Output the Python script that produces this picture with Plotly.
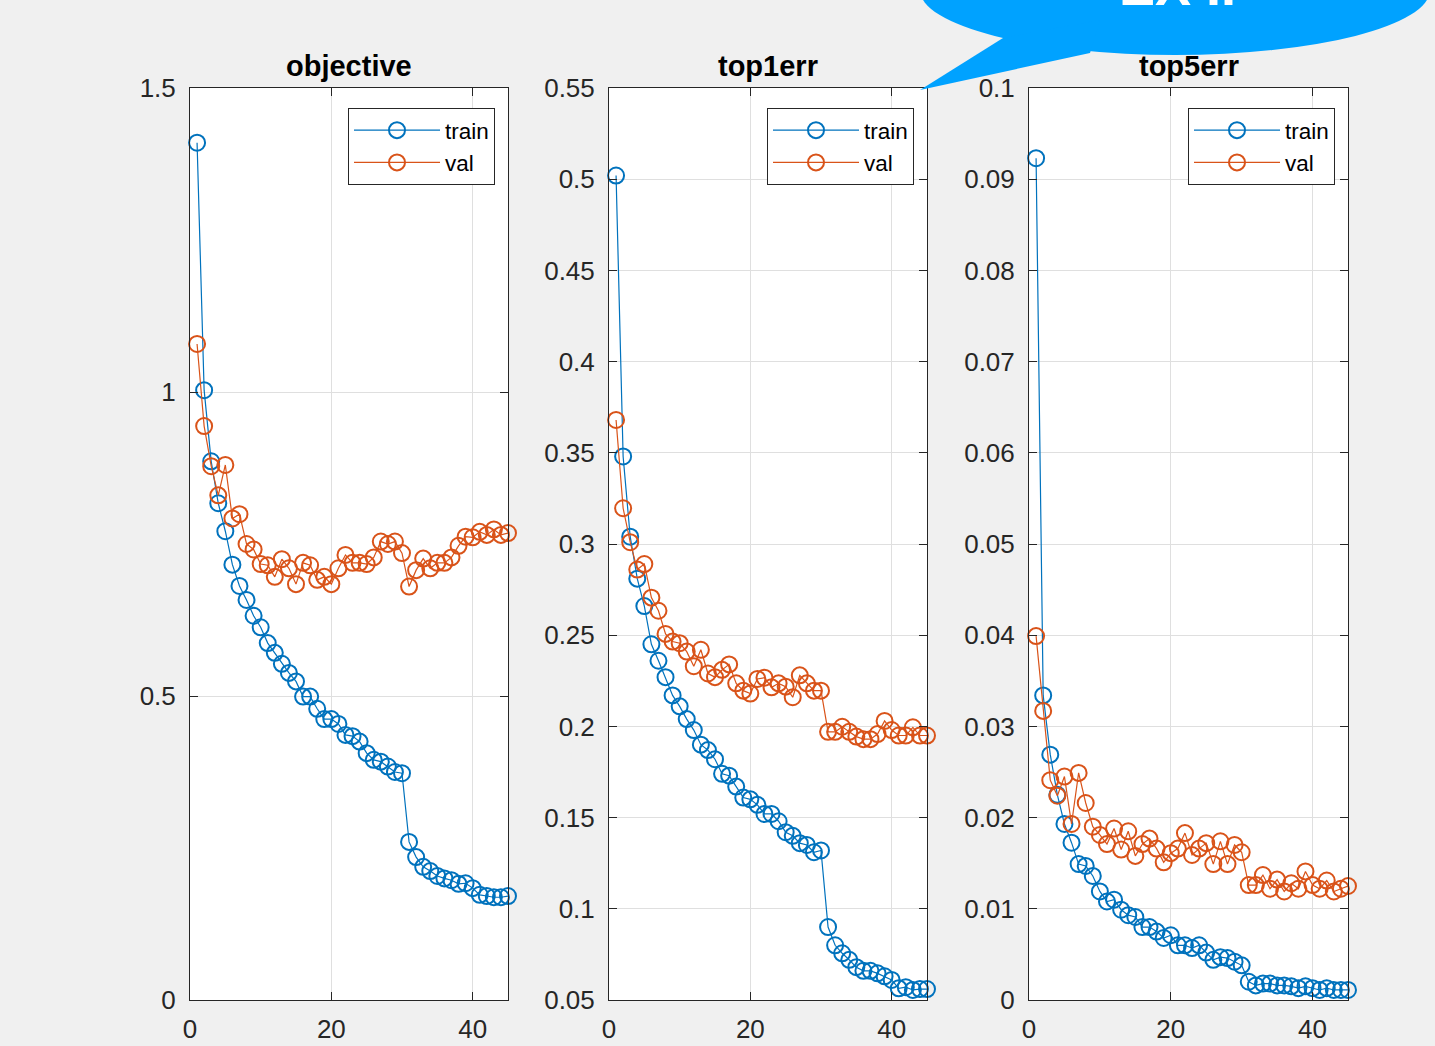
import plotly.graph_objects as go

# ---------------- data ----------------
epochs = list(range(1, 46))

obj_train = [1.41, 1.003, 0.886, 0.817, 0.771, 0.716, 0.681, 0.658, 0.632, 0.613,
             0.587, 0.571, 0.553, 0.538, 0.524, 0.499, 0.499, 0.479, 0.462, 0.462,
             0.454, 0.436, 0.434, 0.425, 0.406, 0.395, 0.392, 0.384, 0.375, 0.373,
             0.260, 0.235, 0.219, 0.212, 0.204, 0.200, 0.197, 0.191, 0.192, 0.184,
             0.173, 0.171, 0.169, 0.169, 0.171]
obj_val = [1.079, 0.944, 0.878, 0.83, 0.88, 0.792, 0.799, 0.75, 0.741, 0.717,
           0.715, 0.696, 0.725, 0.71, 0.684, 0.719, 0.715, 0.691, 0.696, 0.684,
           0.71, 0.732, 0.719, 0.719, 0.717, 0.728, 0.754, 0.75, 0.754, 0.735,
           0.68, 0.707, 0.726, 0.71, 0.719, 0.719, 0.728, 0.747, 0.762, 0.761,
           0.77, 0.765, 0.774, 0.765, 0.768]

top1_train = [0.502, 0.348, 0.304, 0.281, 0.266, 0.245, 0.236, 0.227, 0.217, 0.211,
              0.204, 0.198, 0.19, 0.187, 0.182, 0.174, 0.173, 0.167, 0.161, 0.160,
              0.157, 0.152, 0.152, 0.148, 0.142, 0.140, 0.136, 0.135, 0.131, 0.132,
              0.090, 0.080, 0.0756, 0.072, 0.068, 0.066, 0.066, 0.0646, 0.063, 0.061,
              0.0564, 0.057, 0.0555, 0.056, 0.056]
top1_val = [0.368, 0.3196, 0.301, 0.286, 0.289, 0.2706, 0.2634, 0.2507, 0.2465, 0.2456,
            0.241, 0.233, 0.242, 0.229, 0.227, 0.231, 0.234, 0.2236, 0.2196, 0.218,
            0.226, 0.2267, 0.2214, 0.2236, 0.2218, 0.216, 0.228, 0.2236, 0.2196, 0.2196,
            0.197, 0.197, 0.1998, 0.197, 0.1944, 0.193, 0.193, 0.1958, 0.203, 0.198,
            0.195, 0.195, 0.1995, 0.195, 0.195]

top5_train = [0.0923, 0.0334, 0.0269, 0.0225, 0.0193, 0.01725, 0.0149, 0.0147, 0.0136, 0.0119,
              0.0108, 0.011, 0.0099, 0.0093, 0.0091, 0.008, 0.008, 0.0075, 0.0068, 0.0071,
              0.006, 0.006, 0.0057, 0.006, 0.0052, 0.0044, 0.0047, 0.0046, 0.0042, 0.0038,
              0.002, 0.0016, 0.0018, 0.0018, 0.0016, 0.0016, 0.0015, 0.0013, 0.0015, 0.0013,
              0.0011, 0.0013, 0.0011, 0.0011, 0.0011]
top5_val = [0.0399, 0.0317, 0.0241, 0.0224, 0.0245, 0.0193, 0.0249, 0.0216, 0.019, 0.0181,
            0.0171, 0.0188, 0.0165, 0.0185, 0.0158, 0.0171, 0.0177, 0.0166, 0.0151, 0.0161,
            0.0166, 0.0183, 0.0159, 0.0166, 0.0172, 0.0149, 0.0174, 0.0149, 0.017, 0.0162,
            0.0126, 0.0126, 0.0137, 0.0122, 0.0132, 0.0119, 0.0128, 0.0122, 0.0141, 0.0126,
            0.0122, 0.0131, 0.0119, 0.0122, 0.0125]

titles = ["objective", "top1err", "top5err"]
series_names = ["train", "val"]

x_ticks = [0, 20, 40]
x_ticktext = ["0", "20", "40"]
obj_ticks = [0, 0.5, 1, 1.5]
obj_ticktext = ["0", "0.5", "1", "1.5"]
top1_ticks = [0.05, 0.1, 0.15, 0.2, 0.25, 0.3, 0.35, 0.4, 0.45, 0.5, 0.55]
top1_ticktext = ["0.05", "0.1", "0.15", "0.2", "0.25", "0.3", "0.35", "0.4", "0.45", "0.5", "0.55"]
top5_ticks = [0, 0.01, 0.02, 0.03, 0.04, 0.05, 0.06, 0.07, 0.08, 0.09, 0.1]
top5_ticktext = ["0", "0.01", "0.02", "0.03", "0.04", "0.05", "0.06", "0.07", "0.08", "0.09", "0.1"]

bubble_text = "EX II"

# ---------------- style ----------------
W, H = 1435, 1046
BLUE = "#0072BD"
ORANGE = "#D95319"
AX = "#262626"
GRID = "#dfdfdf"
FONT = "Liberation Sans, Arial, Helvetica, sans-serif"

def px_x(p):
    return p / W

def px_y(p):
    return 1 - p / H

domains_px = [(190, 508), (609, 927), (1029, 1348)]
ytop, ybot = 88, 1000

panels = [
    (obj_train, obj_val, [0, 1.5], obj_ticks, obj_ticktext),
    (top1_train, top1_val, [0.05, 0.55], top1_ticks, top1_ticktext),
    (top5_train, top5_val, [0, 0.1], top5_ticks, top5_ticktext),
]

fig = go.Figure()
layout = dict(
    width=W, height=H,
    paper_bgcolor="#f0f0f0",
    plot_bgcolor="white",
    margin=dict(l=0, r=0, t=0, b=0, pad=0, autoexpand=False),
    font=dict(family=FONT, color=AX, size=26),
    showlegend=True,
)

annotations = []
for i, (tr, va, yr, yt, ytt) in enumerate(panels):
    sfx = "" if i == 0 else str(i + 1)
    xa, ya = "x" + sfx, "y" + sfx
    lg = "legend" + sfx
    for vals, name, col in ((tr, series_names[0], BLUE), (va, series_names[1], ORANGE)):
        fig.add_trace(go.Scatter(
            x=epochs, y=vals, name=name, mode="lines+markers",
            line=dict(color=col, width=1.2),
            marker=dict(symbol="circle-open", size=16, color=col, line=dict(width=2, color=col)),
            xaxis=xa, yaxis=ya, legend=lg, cliponaxis=False,
        ))
    d0, d1 = domains_px[i]
    common = dict(showline=True, linecolor=AX, linewidth=1, mirror="ticks",
                  ticks="inside", ticklen=8, tickcolor=AX, tickwidth=1,
                  showgrid=True, gridcolor=GRID, gridwidth=1, zeroline=False,
                  automargin=False,
                  tickfont=dict(size=26, color=AX, family=FONT))
    layout["xaxis" + sfx] = dict(domain=[px_x(d0), px_x(d1)], range=[0, 45],
                                 tickvals=x_ticks, ticktext=x_ticktext,
                                 ticklabelstandoff=6,
                                 anchor=ya, **common)
    layout["yaxis" + sfx] = dict(domain=[px_y(ybot), px_y(ytop)], range=yr,
                                 tickvals=yt, ticktext=ytt,
                                 ticklabelstandoff=8,
                                 anchor=xa, **common)
    layout[lg] = dict(
        x=px_x(d1 - 13), y=px_y(108), xanchor="right", yanchor="top",
        bgcolor="white", bordercolor=AX, borderwidth=1,
        font=dict(size=22.5, color="black", family=FONT),
        itemwidth=86, tracegroupgap=0,
        entrywidth=150, entrywidthmode="pixels",
    )
    annotations.append(dict(
        text="<b>%s</b>" % titles[i], xref="paper", yref="paper",
        x=px_x((d0 + d1) / 2), y=px_y(66), xanchor="center", yanchor="middle",
        showarrow=False, font=dict(size=29, color="black", family=FONT),
    ))

annotations.append(dict(
    text="<b>%s</b>" % bubble_text, xref="paper", yref="paper",
    x=px_x(1177), y=1 + 14.4 / H, xanchor="center", yanchor="middle",
    showarrow=False, font=dict(size=54, color="white", family=FONT),
))
layout["annotations"] = annotations

BUB = "#00A2FF"
layout["shapes"] = [
    dict(type="circle", xref="paper", yref="paper", layer="above",
         x0=px_x(920), x1=px_x(1430), y0=px_y(55), y1=px_y(-75),
         fillcolor=BUB, line=dict(width=0)),
    dict(type="path", xref="paper", yref="paper", layer="above",
         path="M %f,%f L %f,%f L %f,%f L %f,%f Z" % (
             px_x(1003), px_y(38), px_x(920), px_y(90),
             px_x(1090), px_y(53), px_x(1100), px_y(20)),
         fillcolor=BUB, line=dict(width=0)),
]

fig.update_layout(**layout)
fig.write_html("out.html",
               config={"displayModeBar": False},
               post_script="document.body.style.margin='0';document.body.style.overflow='hidden';")
